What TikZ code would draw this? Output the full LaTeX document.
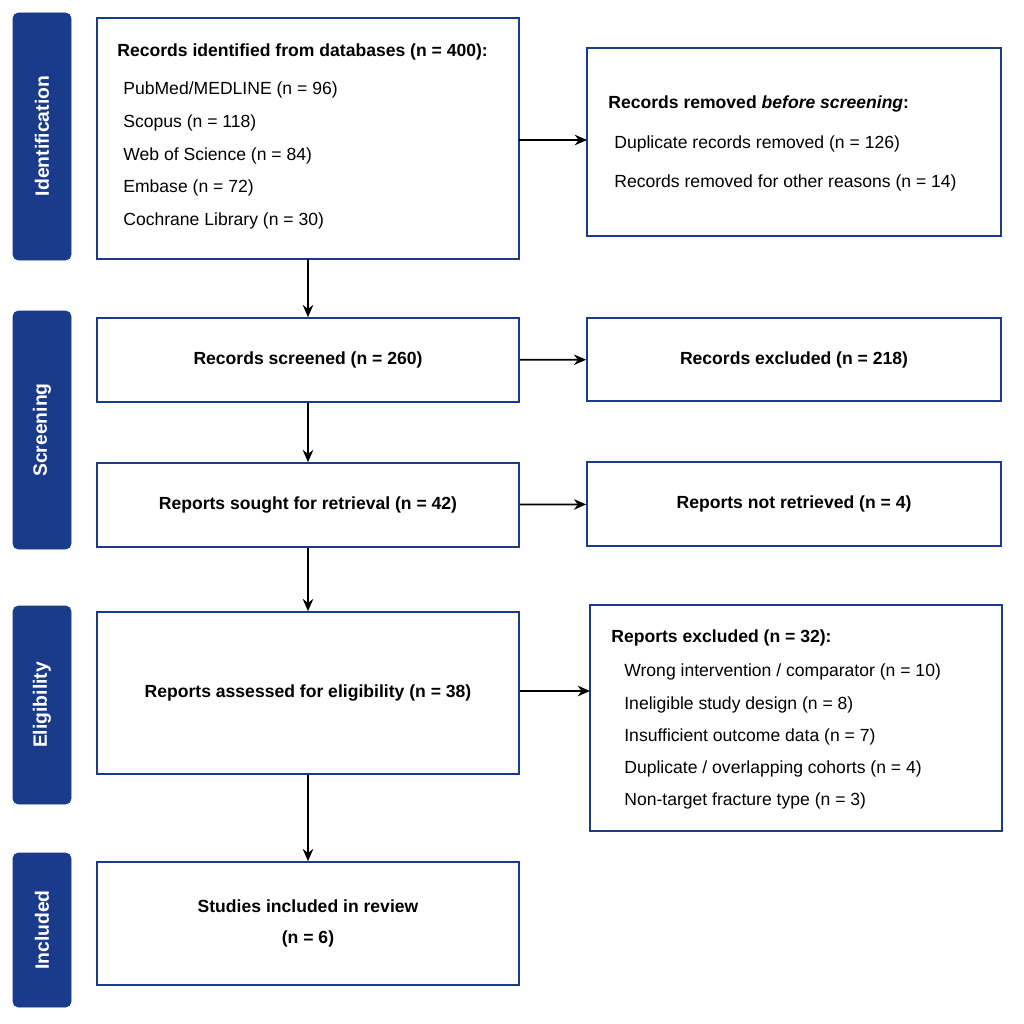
\documentclass[tikz,border=0pt]{standalone}
\usepackage{fontspec}
\setmainfont{Liberation Sans}
\usetikzlibrary{arrows.meta}
\definecolor{prismablue}{RGB}{26,58,138}
\tikzset{
  stage/.style = {draw=prismablue, fill=prismablue, rounded corners=3pt},
  stagetext/.style = {white, font=\fontsize{11}{13}\selectfont\bfseries, rotate=90},
  box/.style = {draw=prismablue, line width=0.9pt},
  boxtitle/.style = {font=\fontsize{10}{12}\selectfont\bfseries, align=center},
  item/.style = {anchor=west, font=\fontsize{10}{12}\selectfont, inner sep=0pt},
  flow/.style = {-{Stealth[length=7pt,width=6pt]}, line width=1pt},
}
\begin{document}
\begin{tikzpicture}[x=0.02cm, y=-0.02cm]
  \useasboundingbox (0,0) rectangle (1024,1024);
  % stages
  \draw[stage] (13,13) rectangle (71,260);
  \node[stagetext] at (42,136) {Identification};
  \draw[stage] (13,311) rectangle (71,549);
  \node[stagetext] at (42,430) {Screening};
  \draw[stage] (13,606) rectangle (71,804);
  \node[stagetext] at (42,705) {Eligibility};
  \draw[stage] (13,853) rectangle (71,1007);
  \node[stagetext] at (42,930) {Included};

  % boxes
  \draw[box] (97,18) rectangle (519,259);
  \coordinate (identS) at (308,259);
  \coordinate (identE) at (519,140);
  \node[item, font=\fontsize{10}{12}\selectfont\bfseries] at (117,52) {Records identified from databases (n = 400):};
  \node[item] at (123,90) {PubMed/MEDLINE (n = 96)};
  \node[item] at (123,123) {Scopus (n = 118)};
  \node[item] at (123,156) {Web of Science (n = 84)};
  \node[item] at (123,188) {Embase (n = 72)};
  \node[item] at (123,221) {Cochrane Library (n = 30)};

  \draw[box] (587,48) rectangle (1001,236);
  \coordinate (removedW) at (587,140);
  \node[item, font=\fontsize{10}{12}\selectfont\bfseries] at (608,104) {Records removed \textit{before screening}:};
  \node[item] at (614,144) {Duplicate records removed (n = 126)};
  \node[item] at (614,183) {Records removed for other reasons (n = 14)};

  \node[box, boxtitle, minimum width=422*0.02cm, minimum height=84*0.02cm] (screened) at (308,360) {Records screened (n = 260)};
  \node[box, boxtitle, minimum width=414*0.02cm, minimum height=83*0.02cm] (excluded) at (794,359.5) {Records excluded (n = 218)};
  \node[box, boxtitle, minimum width=422*0.02cm, minimum height=84*0.02cm] (sought) at (308,505) {Reports sought for retrieval (n = 42)};
  \node[box, boxtitle, minimum width=414*0.02cm, minimum height=84*0.02cm] (notretr) at (794,504) {Reports not retrieved (n = 4)};
  \node[box, boxtitle, minimum width=422*0.02cm, minimum height=162*0.02cm] (assessed) at (308,693) {Reports assessed for eligibility (n = 38)};

  \draw[box] (590,605) rectangle (1002,831);
  \coordinate (exclW) at (590,691);
  \node[item, font=\fontsize{10}{12}\selectfont\bfseries] at (611,638) {Reports excluded (n = 32):};
  \node[item] at (624,672) {Wrong intervention / comparator (n = 10)};
  \node[item] at (624,705) {Ineligible study design (n = 8)};
  \node[item] at (624,737) {Insufficient outcome data (n = 7)};
  \node[item] at (624,769) {Duplicate / overlapping cohorts (n = 4)};
  \node[item] at (624,801) {Non-target fracture type (n = 3)};

  \node[box, boxtitle, minimum width=422*0.02cm, minimum height=123*0.02cm] (included) at (308,923.5) {Studies included in review\\[6pt](n = 6)};

  % connectors
  \draw[flow] (identS) -- (screened.north);
  \draw[flow] (identE) -- (removedW);
  \draw[flow] (screened) -- (excluded);
  \draw[flow] (screened) -- (sought);
  \draw[flow] (sought) -- (notretr);
  \draw[flow] (sought) -- (assessed);
  \draw[flow] (assessed.east |- exclW) -- (exclW);
  \draw[flow] (assessed) -- (included);
\end{tikzpicture}
\end{document}
